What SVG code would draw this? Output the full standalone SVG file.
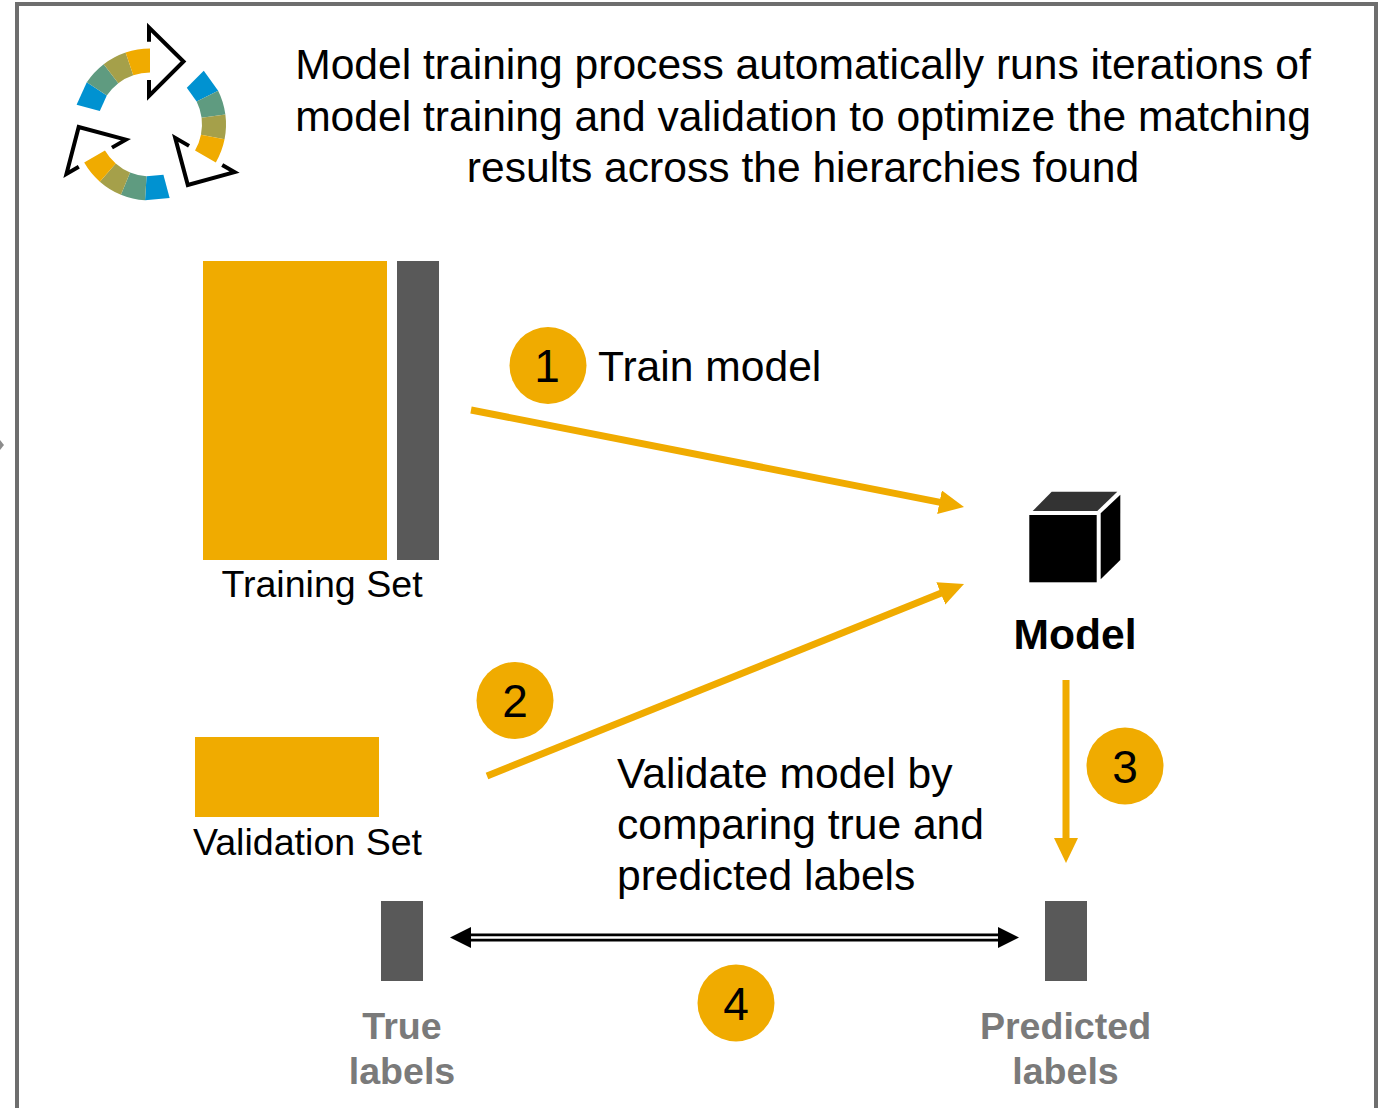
<svg xmlns="http://www.w3.org/2000/svg" width="1383" height="1108" viewBox="0 0 1383 1108">
<style>
text{font-family:"Liberation Sans",Arial,sans-serif;fill:#000}
.lg{font-size:42.6px}
.md{font-size:37.6px}
.num{font-size:46px;text-anchor:middle}
.glabel{font-size:37.6px;font-weight:bold;fill:#7a7a7a;text-anchor:middle}
.gold{fill:#f0ab00}
.dark{fill:#595959}
.conn{stroke:#f0ab00;stroke-width:7;fill:none;marker-end:url(#ah)}
</style>
<defs>
<marker id="ah" markerUnits="userSpaceOnUse" markerWidth="26" markerHeight="26" refX="10" refY="12" orient="auto"><path d="M0 0L25 12L0 24Z" fill="#f0ab00"/></marker>
<g id="arc">
<path d="M76.6 104.8L86.8 82.3L106.8 95.6L99.8 111Z" fill="#0092d1"/>
<path d="M86.8 82.3A76 76 0 0 1 103.7 64.2L118.3 83.2A52 52 0 0 0 106.8 95.6Z" fill="#5f9b80"/>
<path d="M103.7 64.2A76 76 0 0 1 125.6 52.5L133.3 75.3A52 52 0 0 0 118.3 83.2Z" fill="#a5a04a"/>
<path d="M125.6 52.5A76 76 0 0 1 150 48.5V72.5A52 52 0 0 0 133.3 75.3Z" fill="#f0ab00"/>
<path d="M149 41.7V27.5L183.5 61.5L149 96V80" fill="none" stroke="#000" stroke-width="4"/>
</g>
</defs>
<rect width="1383" height="1108" fill="#fff"/>
<rect x="17" y="4" width="1359" height="1120" fill="none" stroke="#6e6e6e" stroke-width="4"/>
<path d="M0 440L4 445L0 450Z" fill="#8c8c8c"/>
<g id="icon">
<use href="#arc"/>
<use href="#arc" transform="rotate(120 150 124.5)"/>
<use href="#arc" transform="rotate(240 150 124.5)"/>
</g>
<g id="title">
<text x="803" y="79" text-anchor="middle" class="lg">Model training process automatically runs iterations of</text>
<text x="803" y="131" text-anchor="middle" class="lg">model training and validation to optimize the matching</text>
<text x="803" y="182" text-anchor="middle" class="lg">results across the hierarchies found</text>
</g>
<g id="training-set">
<rect x="203" y="261" width="184" height="299" class="gold"/>
<rect x="397" y="261" width="42" height="299" class="dark"/>
<text x="322" y="597" text-anchor="middle" class="md">Training Set</text>
</g>
<g id="validation-set">
<rect x="195" y="737" width="184" height="80" class="gold"/>
<text x="307.500" y="855" text-anchor="middle" class="md">Validation Set</text>
</g>
<g id="model">
<rect x="1029.3" y="515" width="67.4" height="67.3" fill="#000"/>
<path d="M1032.7 511L1051.7 491.7H1117.3L1097.3 511Z" fill="#333"/>
<path d="M1100.7 513.3L1120.3 494.7V560L1100.7 579.3Z" fill="#000"/>
<text x="1075" y="649" text-anchor="middle" class="lg" style="font-weight:bold">Model</text>
</g>
<g id="true-labels">
<rect x="381" y="901" width="42" height="80" class="dark"/>
<text x="402" y="1039" class="glabel">True</text>
<text x="402" y="1084" class="glabel">labels</text>
</g>
<g id="predicted-labels">
<rect x="1045" y="901" width="42" height="80" class="dark"/>
<text x="1065.500" y="1039" class="glabel">Predicted</text>
<text x="1065.500" y="1084" class="glabel">labels</text>
</g>
<g id="connectors">
<path class="conn" d="M471 410L949.300 504.100"/>
<path class="conn" d="M487 776L950.100 589.600"/>
<path class="conn" d="M1066 680V848"/>
<path d="M465 937.500H1004" stroke="#000" stroke-width="8" fill="none"/>
<path d="M465 937.500H1004" stroke="#fff" stroke-width="2.500" fill="none"/>
<path d="M450 937.500L471 927V948Z" fill="#000"/>
<path d="M1019 937.500L998 927V948Z" fill="#000"/>
</g>
<g id="step-1">
<circle cx="548" cy="365.500" r="38.500" class="gold"/>
<text x="547" y="382" class="num">1</text>
<text x="598" y="381" class="lg">Train model</text>
</g>
<g id="step-2">
<circle cx="515" cy="700.500" r="38.500" class="gold"/>
<text x="515" y="717" class="num">2</text>
</g>
<g id="step-3">
<circle cx="1125" cy="766" r="38.500" class="gold"/>
<text x="1125" y="783" class="num">3</text>
</g>
<g id="step-4">
<circle cx="736" cy="1003" r="38.500" class="gold"/>
<text x="736" y="1020" class="num">4</text>
<text x="617" y="788" class="lg">Validate model by</text>
<text x="617" y="839" class="lg">comparing true and</text>
<text x="617" y="890" class="lg">predicted labels</text>
</g>
</svg>
